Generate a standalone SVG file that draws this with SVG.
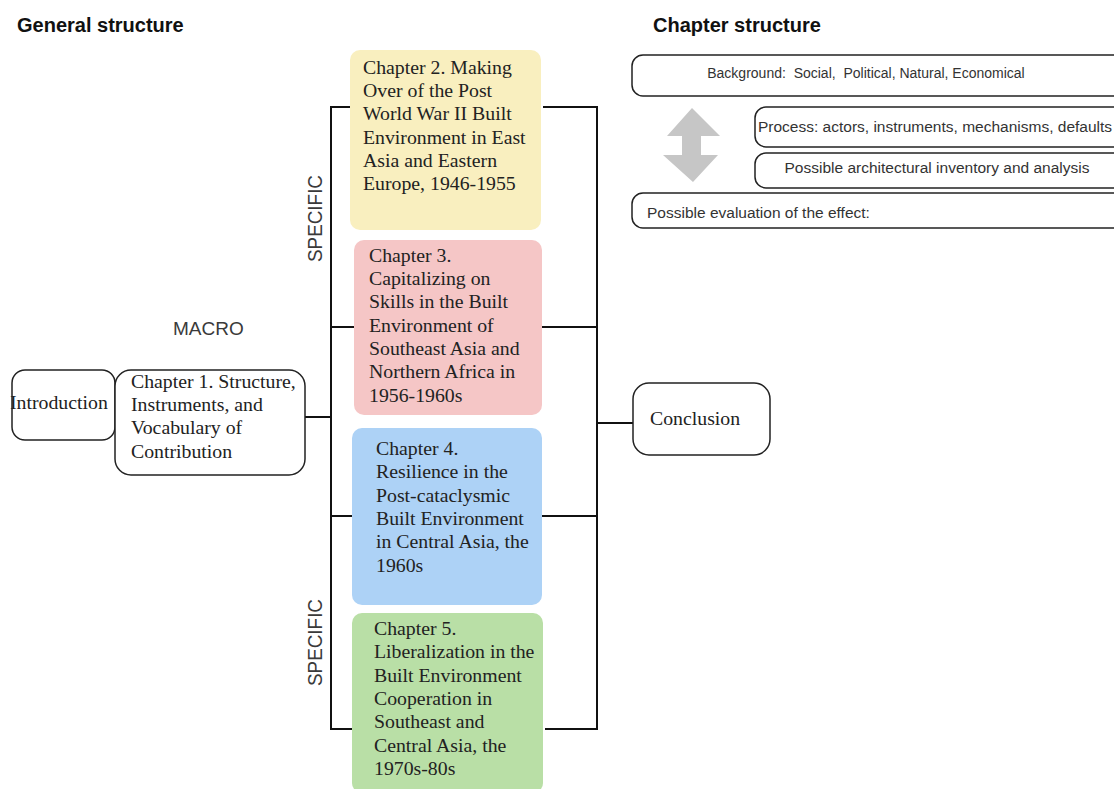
<svg xmlns="http://www.w3.org/2000/svg" width="1114" height="789" viewBox="0 0 1114 789">
<style>
.ttl{font-family:"Liberation Sans",Arial,sans-serif;font-weight:bold;font-size:20px;fill:#111}
.lab{font-family:"Liberation Sans",Arial,sans-serif;font-size:19px;fill:#3a3a3a}
.ser{font-family:"Liberation Serif","Times New Roman",serif;font-size:19.8px;fill:#222}
.sm{font-family:"Liberation Sans",Arial,sans-serif;fill:#333;font-size:15.5px}
.ob{fill:#fff;stroke:#222;stroke-width:1.5}
.cb{stroke:none}
.ln{stroke:#111;stroke-width:2;fill:none}
</style>
<rect width="1114" height="789" fill="#fff"/>
<text class="ttl" x="17" y="32">General structure</text>
<text class="ttl" x="653" y="32">Chapter structure</text>
<text class="lab" x="173" y="335">MACRO</text>
<text class="lab" transform="translate(322,218.5) rotate(-90)" text-anchor="middle" style="font-size:21px" textLength="87" lengthAdjust="spacingAndGlyphs">SPECIFIC</text>
<text class="lab" transform="translate(322,642.5) rotate(-90)" text-anchor="middle" style="font-size:21px" textLength="87" lengthAdjust="spacingAndGlyphs">SPECIFIC</text>
<g id="connectors">
<path class="ln" d="M353,107 H331 V729 H353 M331,327 H355 M331,516 H353 M305,417 H331"/>
<path class="ln" d="M543,107 H597 V729 H545 M541,327 H597 M542,516 H597 M597,423 H633"/>
</g>
<g id="introduction">
<rect class="ob" x="12" y="370" width="103" height="70" rx="13"/>
<text class="ser" x="10" y="409">Introduction</text>
</g>
<g id="chapter1">
<rect class="ob" x="115" y="370" width="190" height="105" rx="16"/>
<text class="ser" x="131" y="388">Chapter 1. Structure,</text>
<text class="ser" x="131" y="411">Instruments, and</text>
<text class="ser" x="131" y="434">Vocabulary of</text>
<text class="ser" x="131" y="458">Contribution</text>
</g>
<g id="chapter2">
<rect class="cb" x="350" y="50" width="191" height="180" rx="10" fill="#f9efbf"/>
<text class="ser" x="363" y="74">Chapter 2. Making</text>
<text class="ser" x="363" y="97">Over of the Post</text>
<text class="ser" x="363" y="120">World War II Built</text>
<text class="ser" x="363" y="144">Environment in East</text>
<text class="ser" x="363" y="167">Asia and Eastern</text>
<text class="ser" x="363" y="190">Europe, 1946-1955</text>
</g>
<g id="chapter3">
<rect class="cb" x="354" y="240" width="188" height="175" rx="10" fill="#f5c6c6"/>
<text class="ser" x="369" y="262">Chapter 3.</text>
<text class="ser" x="369" y="285">Capitalizing on</text>
<text class="ser" x="369" y="308">Skills in the Built</text>
<text class="ser" x="369" y="332">Environment of</text>
<text class="ser" x="369" y="355">Southeast Asia and</text>
<text class="ser" x="369" y="378">Northern Africa in</text>
<text class="ser" x="369" y="402">1956-1960s</text>
</g>
<g id="chapter4">
<rect class="cb" x="352" y="428" width="190" height="177" rx="10" fill="#add2f6"/>
<text class="ser" x="376" y="455">Chapter 4.</text>
<text class="ser" x="376" y="478">Resilience in the</text>
<text class="ser" x="376" y="502">Post-cataclysmic</text>
<text class="ser" x="376" y="525">Built Environment</text>
<text class="ser" x="376" y="548">in Central Asia, the</text>
<text class="ser" x="376" y="572">1960s</text>
</g>
<g id="chapter5">
<rect class="cb" x="352" y="613" width="191" height="180" rx="10" fill="#b9dfa6"/>
<text class="ser" x="374" y="635">Chapter 5.</text>
<text class="ser" x="374" y="658">Liberalization in the</text>
<text class="ser" x="374" y="682">Built Environment</text>
<text class="ser" x="374" y="705">Cooperation in</text>
<text class="ser" x="374" y="728">Southeast and</text>
<text class="ser" x="374" y="752">Central Asia, the</text>
<text class="ser" x="374" y="775">1970s-80s</text>
</g>
<g id="conclusion">
<rect class="ob" x="633" y="383" width="137" height="72" rx="16"/>
<text class="ser" x="650" y="425">Conclusion</text>
</g>
<g id="background">
<rect class="ob" x="632" y="55" width="494" height="41" rx="11"/>
<text class="sm" x="866" y="78" text-anchor="middle" style="white-space:pre;font-size:14px">Background:  Social,  Political, Natural, Economical</text>
</g>
<g id="arrow">
<path d="M692,108 L720,136 H701 V155 H718 L693,182 L663,155 H682 V136 H667 Z" fill="#c6c6c6"/>
</g>
<g id="process">
<rect class="ob" x="755" y="107" width="370" height="40" rx="11"/>
<text class="sm" x="758" y="132">Process: actors, instruments, mechanisms, defaults</text>
</g>
<g id="inventory">
<rect class="ob" x="755" y="153" width="370" height="35" rx="11"/>
<text class="sm" x="937" y="173" text-anchor="middle">Possible architectural inventory and analysis</text>
</g>
<g id="evaluation">
<rect class="ob" x="632" y="193" width="494" height="35" rx="11"/>
<text class="sm" x="647" y="218">Possible evaluation of the effect:</text>
</g>
</svg>
